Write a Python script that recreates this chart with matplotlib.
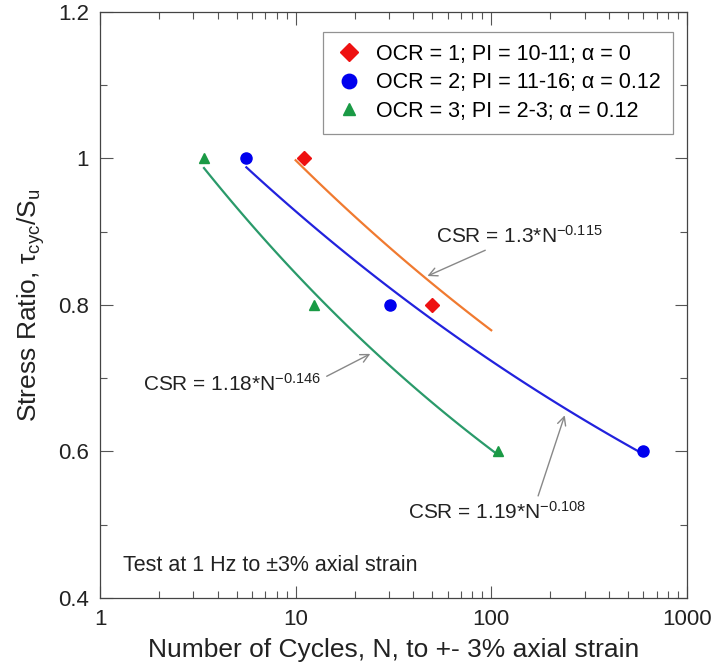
import matplotlib
matplotlib.use('Agg')
import matplotlib.pyplot as plt
import numpy as np
from matplotlib.ticker import MultipleLocator, LogLocator, NullFormatter, FixedLocator, FixedFormatter

plt.rcParams['font.family'] = ['Liberation Sans', 'DejaVu Sans']
plt.rcParams['mathtext.fontset'] = 'custom'
plt.rcParams['mathtext.rm'] = 'Liberation Sans'
plt.rcParams['mathtext.it'] = 'Liberation Sans:italic'

# measured points
n_ocr1 = [11.0, 49.7]
sr_ocr1 = [1.0, 0.8]
n_ocr2 = [5.6, 30.3, 595]
sr_ocr2 = [1.0, 0.8, 0.6]
n_ocr3 = [3.4, 12.4, 108]
sr_ocr3 = [1.0, 0.8, 0.6]

# power law fits CSR = a*N^b, drawn over range shown
fit_ocr1 = (1.3, -0.115, 10, 100)
fit_ocr2 = (1.19, -0.108, 5.6, 600)
fit_ocr3 = (1.18, -0.146, 3.4, 107)

fig = plt.figure(figsize=(7.13, 6.7), dpi=100)
ax = fig.add_axes([0.1403, 0.1075, 0.823, 0.8746])

def fit_line(fit, color):
    a, b, n0, n1 = fit
    n = np.logspace(np.log10(n0), np.log10(n1), 100)
    ax.plot(n, a * n**b, color=color, lw=1.6)

fit_line(fit_ocr1, '#f07a30')
fit_line(fit_ocr2, '#2222dd')
fit_line(fit_ocr3, '#2a9a6a')

ax.plot(n_ocr1, sr_ocr1, 'D', color='#ee1111', ms=7, ls='none',
        label='OCR = 1; PI = 10-11; α = 0')
ax.plot(n_ocr2, sr_ocr2, 'o', color='#0000ee', ms=8, ls='none',
        label='OCR = 2; PI = 11-16; α = 0.12')
ax.plot(n_ocr3, sr_ocr3, '^', color='#1a9a45', ms=7, ls='none',
        label='OCR = 3; PI = 2-3; α = 0.12')

ax.set_xscale('log')
ax.set_xlim(1, 1000)
ax.set_ylim(0.4, 1.2)
ax.xaxis.set_major_locator(FixedLocator([1, 10, 100, 1000]))
ax.xaxis.set_major_formatter(FixedFormatter(['1', '10', '100', '1000']))
ax.xaxis.set_minor_locator(LogLocator(base=10, subs=np.arange(2, 10)))
ax.xaxis.set_minor_formatter(NullFormatter())
ax.yaxis.set_major_locator(FixedLocator([0.4, 0.6, 0.8, 1.0, 1.2]))
ax.yaxis.set_major_formatter(FixedFormatter(['0.4', '0.6', '0.8', '1', '1.2']))
ax.yaxis.set_minor_locator(MultipleLocator(0.1))

ax.tick_params(which='both', direction='in', top=True, right=True,
               color='#555555', labelsize=16, labelcolor='#222222')
ax.tick_params(which='major', length=9, width=0.8, pad=8)
ax.tick_params(which='minor', length=5, width=0.8)
for s in ax.spines.values():
    s.set_color('#444444')
    s.set_linewidth(0.9)

ax.set_xlabel('Number of Cycles, N, to +- 3% axial strain', fontsize=19,
              color='#222222', labelpad=6)
ax.set_ylabel(r'Stress Ratio, τ$_\mathrm{cyc}$/S$_\mathrm{u}$', fontsize=19,
              color='#222222', labelpad=8)

leg = ax.legend(loc='upper right', bbox_to_anchor=(0.976, 0.966), borderaxespad=0,
                fontsize=15.5, frameon=True, fancybox=False, handletextpad=0.6,
                labelspacing=0.35, borderpad=0.55, handlelength=1.3, markerscale=1.3)
leg.get_frame().set_edgecolor('#777777')
leg.get_frame().set_linewidth(0.9)

arrow = dict(arrowstyle='->', color='#888888', lw=1.0)
ax.annotate(r'CSR = 1.3*N$^{-0.115}$', xy=(45.8, 0.838), xytext=(52, 0.895),
            fontsize=15, color='#222222', va='center', ha='left',
            arrowprops=dict(arrow, relpos=(0.35, 0.0)))
ax.annotate(r'CSR = 1.18*N$^{-0.146}$', xy=(24.8, 0.735), xytext=(1.66, 0.693),
            fontsize=15, color='#222222', va='center', ha='left',
            arrowprops=dict(arrow, relpos=(1.0, 0.7)))
ax.annotate(r'CSR = 1.19*N$^{-0.108}$', xy=(240, 0.653), xytext=(37.5, 0.517),
            fontsize=15, color='#222222', va='center', ha='left',
            arrowprops=dict(arrow, relpos=(0.72, 1.0)))

ax.text(1.31, 0.445, 'Test at 1 Hz to ±3% axial strain', fontsize=15.5,
        color='#222222', va='center', ha='left')

fig.savefig('out.png', dpi=100)
